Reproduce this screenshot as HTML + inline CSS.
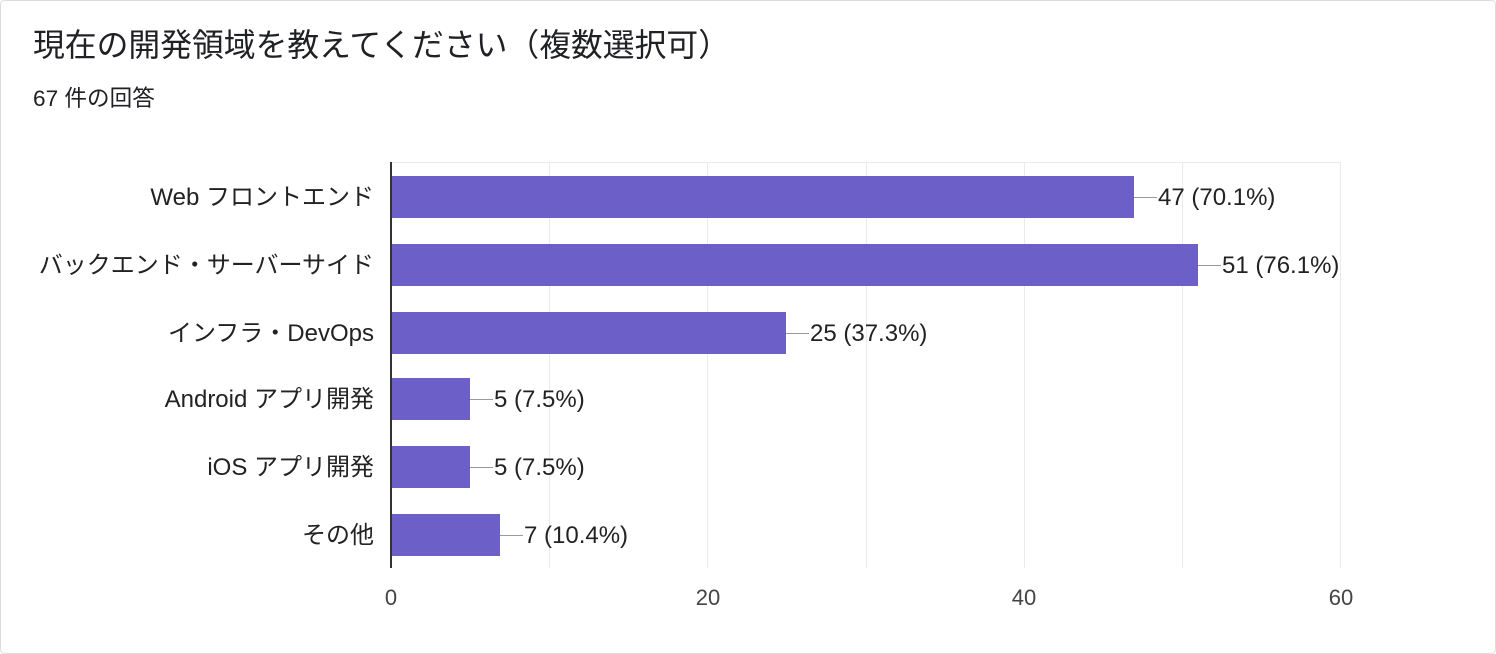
<!DOCTYPE html>
<html><head><meta charset="utf-8"><style>
body{margin:0;background:#fff;}
svg{display:block;font-family:"Liberation Sans","Noto Sans CJK JP",sans-serif;}
</style></head><body>
<svg width="1496" height="654" xmlns="http://www.w3.org/2000/svg">
<rect x="0.5" y="0.5" width="1495" height="653" rx="4" fill="#fff" stroke="#dadce0"/>
<text x="33" y="56" font-size="31.8" fill="#202124">現在の開発領域を教えてください（複数選択可）</text>
<text x="33" y="106" font-size="22.6" fill="#202124">67 件の回答</text>
<g stroke="#ebebeb" stroke-width="1">
<line x1="391" y1="162.5" x2="1341" y2="162.5"/>
<line x1="549.5" y1="162" x2="549.5" y2="568"/>
<line x1="707.5" y1="162" x2="707.5" y2="568"/>
<line x1="866.5" y1="162" x2="866.5" y2="568"/>
<line x1="1024.5" y1="162" x2="1024.5" y2="568"/>
<line x1="1182.5" y1="162" x2="1182.5" y2="568"/>
<line x1="1340.5" y1="162" x2="1340.5" y2="568"/>
</g>
<g fill="#6c5fc7">
<rect x="391" y="176" width="743" height="42"/>
<rect x="391" y="244" width="807" height="42"/>
<rect x="391" y="312" width="395" height="42"/>
<rect x="391" y="378" width="79" height="42"/>
<rect x="391" y="446" width="79" height="42"/>
<rect x="391" y="514" width="109" height="42"/>
</g>
<line x1="391" y1="162" x2="391" y2="568" stroke="#333" stroke-width="2"/>
<g stroke="#999" stroke-width="1">
<line x1="1134" y1="197.5" x2="1157" y2="197.5"/>
<line x1="1198" y1="265.5" x2="1221" y2="265.5"/>
<line x1="786" y1="333.5" x2="809" y2="333.5"/>
<line x1="470" y1="399.5" x2="493" y2="399.5"/>
<line x1="470" y1="467.5" x2="493" y2="467.5"/>
<line x1="500" y1="535.5" x2="523" y2="535.5"/>
</g>
<g font-size="24" fill="#222">
<text x="1158" y="205">47 (70.1%)</text>
<text x="1222" y="273">51 (76.1%)</text>
<text x="810" y="341">25 (37.3%)</text>
<text x="494" y="407">5 (7.5%)</text>
<text x="494" y="475">5 (7.5%)</text>
<text x="524" y="543">7 (10.4%)</text>
</g>
<g font-size="24" fill="#222" text-anchor="end">
<text x="374" y="205">Web フロントエンド</text>
<text x="374" y="273">バックエンド・サーバーサイド</text>
<text x="374" y="341">インフラ・DevOps</text>
<text x="374" y="407">Android アプリ開発</text>
<text x="374" y="475">iOS アプリ開発</text>
<text x="374" y="543">その他</text>
</g>
<g font-size="22" fill="#444" text-anchor="middle">
<text x="391" y="605">0</text>
<text x="708" y="605">20</text>
<text x="1024" y="605">40</text>
<text x="1341" y="605">60</text>
</g>
</svg>
</body></html>
